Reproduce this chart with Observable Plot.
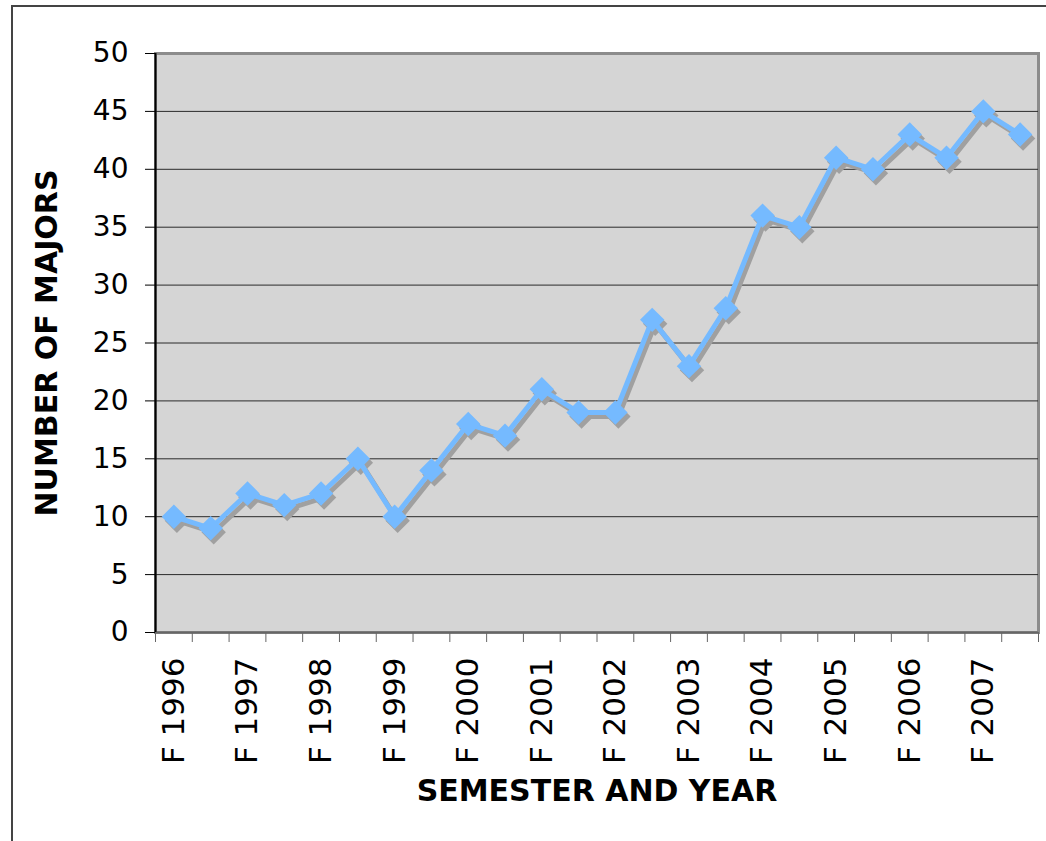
<!DOCTYPE html>
<html><head><meta charset="utf-8">
<script src="https://cdn.jsdelivr.net/npm/d3@7"></script>
<script src="https://cdn.jsdelivr.net/npm/@observablehq/plot@0.6"></script>
<style>
body{margin:0;background:#fff;font-family:"DejaVu Sans",Verdana,sans-serif;}
#border{position:absolute;left:11px;top:5px;width:1100px;height:900px;border-left:2px solid #444;border-top:2px solid #444;box-sizing:border-box;}
#chart{position:absolute;left:0;top:0;}
</style></head><body><div id="border"></div><div id="chart"></div>
<script>
const semesters = ["F 1996","S 1997","F 1997","S 1998","F 1998","S 1999","F 1999","S 2000","F 2000","S 2001","F 2001","S 2002","F 2002","S 2003","F 2003","S 2004","F 2004","S 2005","F 2005","S 2006","F 2006","S 2007","F 2007","S 2008"];
const majors = [10,9,12,11,12,15,10,14,18,17,21,19,19,27,23,28,36,35,41,40,43,41,45,43];
const yTicks = [0,5,10,15,20,25,30,35,40,45,50];
const xTitle = "SEMESTER AND YEAR";
const yTitle = "NUMBER OF MAJORS";

const data = semesters.map((s, i) => ({semester: s, pos: i + 0.5, majors: majors[i]}));
const labelPos = data.filter((d, i) => i % 2 === 0).map(d => d.pos);
const boundaries = d3.range(0, semesters.length + 1);
const lineColor = "#75baff";
const shadowColor = "#a0a0a0";

const chart = Plot.plot({
  width: 1046, height: 841,
  marginLeft: 155, marginRight: 8, marginTop: 53, marginBottom: 209,
  x: {domain: [0, semesters.length]},
  y: {domain: [0, 50]},
  style: {fontFamily: "'DejaVu Sans', Verdana, sans-serif", background: "transparent", color: "black"},
  marks: [
    Plot.frame({fill: "#d5d5d5", stroke: "#8c8c8c", strokeWidth: 3}),
    Plot.ruleY(yTicks.filter(v => v > 0 && v < 50), {stroke: "#2b2b2b", strokeWidth: 1}),
    Plot.axisY({ticks: yTicks, tickSize: 10, tickPadding: 17, fontSize: 28, label: null, stroke: "black"}),
    Plot.axisX({ticks: boundaries, tickSize: 10, tickFormat: () => "", label: null, stroke: "#666"}),
    Plot.axisX({ticks: labelPos, tickSize: 0, tickPadding: 25, tickRotate: -90, fontSize: 31, label: null,
      tickFormat: p => semesters[Math.round(p - 0.5)]}),
    Plot.ruleY([0], {stroke: "#666", strokeWidth: 2}),
    Plot.ruleX([0], {stroke: "black", strokeWidth: 2}),
    Plot.line(data, {x: "pos", y: "majors", dx: 3, dy: 4, stroke: shadowColor, strokeWidth: 5}),
    Plot.dot(data, {x: "pos", y: "majors", dx: 3, dy: 4, symbol: "diamond2", r: 11, fill: shadowColor}),
    Plot.line(data, {x: "pos", y: "majors", stroke: lineColor, strokeWidth: 5}),
    Plot.dot(data, {x: "pos", y: "majors", symbol: "diamond2", r: 11, fill: lineColor}),
    Plot.text([yTitle], {frameAnchor: "left", dx: -108, rotate: -90, textAnchor: "middle", lineAnchor: "middle", fontSize: 30, fontWeight: "bold", fill: "black"}),
    Plot.text([xTitle], {frameAnchor: "bottom", dy: 168, fontSize: 30, fontWeight: "bold", fill: "black"})
  ]
});
document.getElementById("chart").append(chart);
</script>
</body></html>
